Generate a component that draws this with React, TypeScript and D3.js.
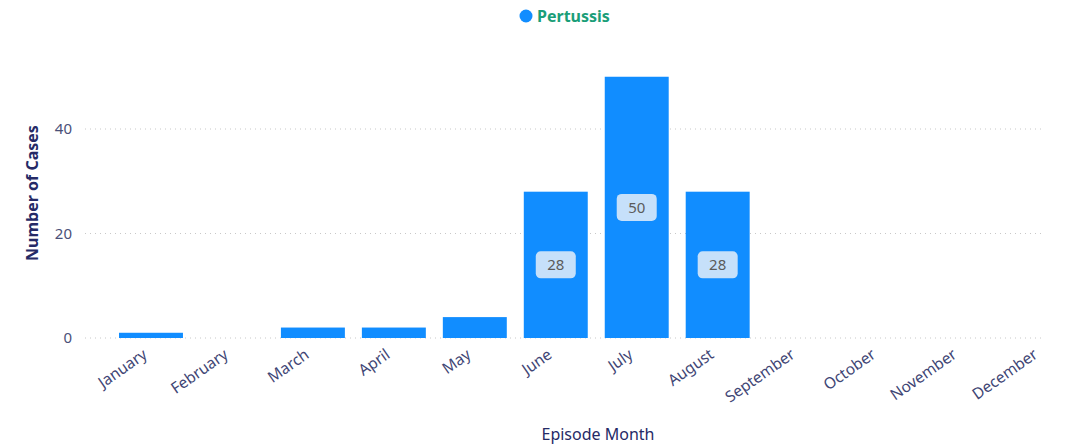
import { useEffect, useRef } from "react";
import * as d3 from "d3";

const months = [
  "January", "February", "March", "April", "May", "June",
  "July", "August", "September", "October", "November", "December",
];
const cases = [1, 0, 2, 2, 4, 28, 50, 28, 0, 0, 0, 0];
const yTicks = [0, 20, 40];
const labelledMonths = ["June", "July", "August"];

export default function App() {
  const svgRef = useRef(null);

  useEffect(() => {
    const width = 1071;
    const height = 446;
    const font = "'Segoe UI', 'Noto Sans', sans-serif";

    const svg = d3.select(svgRef.current).attr("width", width).attr("height", height);
    svg.selectAll("*").remove();

    const x = d3.scaleBand().domain(months).range([110.5, 1082]).paddingInner(0.21).paddingOuter(0.105);
    const y = d3.scaleLinear().domain([0, 50]).range([338, 76.75]);

    // grid
    svg
      .selectAll("line.grid")
      .data(yTicks)
      .enter()
      .append("line")
      .attr("class", "grid")
      .attr("x1", 85)
      .attr("x2", 1045)
      .attr("y1", (d) => y(d))
      .attr("y2", (d) => y(d))
      .attr("stroke", "#c8c8c8")
      .attr("stroke-width", 1)
      .attr("stroke-dasharray", "1,4");

    svg
      .selectAll("text.ytick")
      .data(yTicks)
      .enter()
      .append("text")
      .attr("class", "ytick")
      .attr("x", 72)
      .attr("y", (d) => y(d))
      .attr("dy", "0.35em")
      .attr("text-anchor", "end")
      .attr("font-family", font)
      .attr("font-size", 15)
      .attr("fill", "#4a5078")
      .text((d) => d);

    // bars
    svg
      .selectAll("rect.bar")
      .data(cases)
      .enter()
      .append("rect")
      .attr("class", "bar")
      .attr("x", (d, i) => x(months[i]))
      .attr("width", x.bandwidth())
      .attr("y", (d) => y(d))
      .attr("height", (d) => y(0) - y(d))
      .attr("fill", "#118DFF");

    // data labels
    const labels = svg
      .selectAll("g.dl")
      .data(cases.map((v, i) => ({ v, m: months[i] })).filter((d) => labelledMonths.includes(d.m)))
      .enter()
      .append("g")
      .attr("class", "dl")
      .attr("transform", (d) => `translate(${x(d.m) + x.bandwidth() / 2}, ${(y(d.v) + y(0)) / 2})`);

    labels
      .append("rect")
      .attr("x", -20)
      .attr("y", -13.5)
      .attr("width", 40)
      .attr("height", 27)
      .attr("rx", 5)
      .attr("fill", "#c6e0fa");

    labels
      .append("text")
      .attr("text-anchor", "middle")
      .attr("dy", "0.36em")
      .attr("font-family", font)
      .attr("font-size", 15)
      .attr("fill", "#5b5b5b")
      .text((d) => d.v);

    // x tick labels
    svg
      .selectAll("text.xtick")
      .data(months)
      .enter()
      .append("text")
      .attr("class", "xtick")
      .attr("transform", (d) => `translate(${x(d) + x.bandwidth() / 2 - 9}, ${348}) rotate(-35)`)
      .attr("text-anchor", "end")
      .attr("dy", "0.7em")
      .attr("font-family", font)
      .attr("font-size", 15.5)
      .attr("fill", "#3f4675")
      .text((d) => d);

    // axis titles
    svg
      .append("text")
      .attr("x", 598)
      .attr("y", 434)
      .attr("dy", "0.35em")
      .attr("text-anchor", "middle")
      .attr("font-family", font)
      .attr("font-size", 16)
      .attr("fill", "#252a66")
      .text("Episode Month");

    svg
      .append("text")
      .attr("transform", "translate(32, 193) rotate(-90)")
      .attr("dy", "0.35em")
      .attr("text-anchor", "middle")
      .attr("font-family", font)
      .attr("font-size", 16)
      .attr("font-weight", "bold")
      .attr("fill", "#252a66")
      .text("Number of Cases");

    // legend
    svg.append("circle").attr("cx", 526).attr("cy", 16).attr("r", 6.5).attr("fill", "#118DFF");
    svg
      .append("text")
      .attr("x", 537)
      .attr("y", 16)
      .attr("dy", "0.35em")
      .attr("font-family", font)
      .attr("font-size", 16)
      .attr("font-weight", "bold")
      .attr("fill", "#1a9e78")
      .text("Pertussis");
  }, []);

  return <svg ref={svgRef} style={{ position: "absolute", left: 0, top: 0 }}></svg>;
}
